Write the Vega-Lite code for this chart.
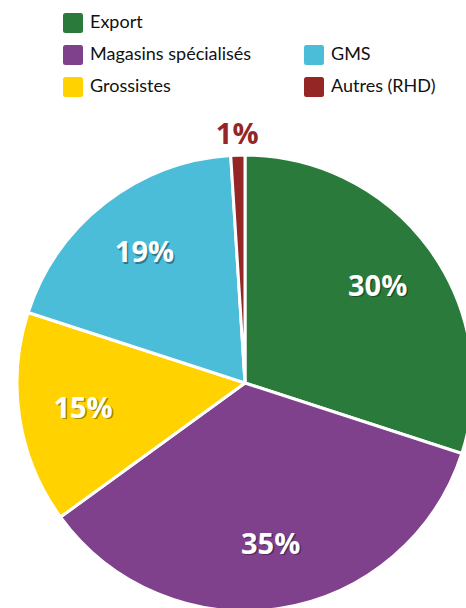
{
  "$schema": "https://vega.github.io/schema/vega-lite/v6.json",
  "width": 442,
  "height": 450,
  "autosize": {"type": "none"},
  "padding": {"left": 24, "top": 158, "right": 0, "bottom": 0},
  "background": "white",
  "config": {"view": {"stroke": null}},
  "data": {
    "values": [
      {"segment": "Export", "value": 0.30, "rank": 1},
      {"segment": "Magasins spécialisés", "value": 0.35, "rank": 2},
      {"segment": "Grossistes", "value": 0.15, "rank": 3},
      {"segment": "GMS", "value": 0.19, "rank": 4},
      {"segment": "Autres (RHD)", "value": 0.01, "rank": 5}
    ]
  },
  "encoding": {
    "theta": {"field": "value", "type": "quantitative", "stack": true},
    "order": {"field": "rank", "type": "quantitative", "sort": "ascending"}
  },
  "layer": [
    {
      "mark": {"type": "arc", "outerRadius": 228, "stroke": "white", "strokeWidth": 3},
      "encoding": {
        "color": {
          "field": "segment",
          "type": "nominal",
          "scale": {
            "domain": ["Export", "Magasins spécialisés", "Grossistes", " ", "GMS", "Autres (RHD)"],
            "range": ["#2a7a3c", "#7f408c", "#ffd200", "transparent", "#4bbdd8", "#952626"]
          },
          "legend": {
            "title": null,
            "orient": "none",
            "legendX": 39,
            "legendY": -145,
            "columns": 2,
            "padding": 0,
            "rowPadding": 12,
            "columnPadding": 52,
            "symbolType": "M -0.75 -1 L 0.75 -1 Q 1 -1 1 -0.75 L 1 0.75 Q 1 1 0.75 1 L -0.75 1 Q -1 1 -1 0.75 L -1 -0.75 Q -1 -1 -0.75 -1 Z",
            "symbolSize": 400,
            "symbolStrokeWidth": 0,
            "symbolOpacity": 1,
            "labelFont": "Lato",
            "labelFontSize": 18,
            "labelColor": "#111111",
            "labelOffset": 7,
            "labelLimit": 300
          }
        }
      }
    },
    {
      "mark": {"type": "text", "radius": 164, "dx": 1.5, "dy": 1.5, "font": "Open Sans", "fontWeight": "bold", "fontSize": 29, "baseline": "middle", "align": "center", "fill": "#000000"},
      "encoding": {
        "text": {"field": "value", "type": "quantitative", "format": ".0%"},
        "opacity": {"condition": {"test": "datum.value < 0.05", "value": 0}, "value": 0.35}
      }
    },
    {
      "mark": {"type": "text", "radius": 164, "font": "Open Sans", "fontWeight": "bold", "fontSize": 29, "baseline": "middle", "align": "center", "fill": "white"},
      "encoding": {
        "text": {"field": "value", "type": "quantitative", "format": ".0%"},
        "opacity": {"condition": {"test": "datum.value < 0.05", "value": 0}, "value": 1}
      }
    },
    {
      "mark": {"type": "text", "radius": 248, "font": "Open Sans", "fontWeight": "bold", "fontSize": 29, "baseline": "middle", "align": "center", "fill": "#952626"},
      "encoding": {
        "text": {"field": "value", "type": "quantitative", "format": ".0%"},
        "opacity": {"condition": {"test": "datum.value < 0.05", "value": 1}, "value": 0}
      }
    }
  ]
}
